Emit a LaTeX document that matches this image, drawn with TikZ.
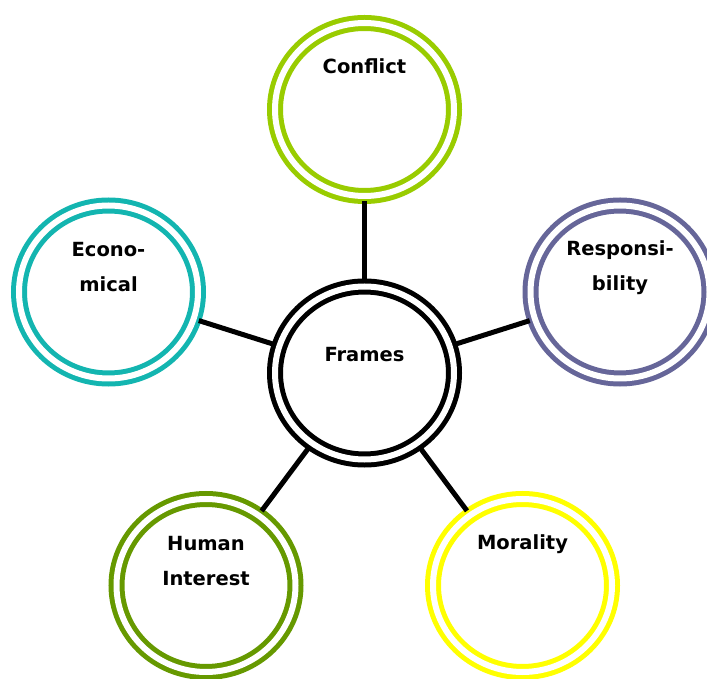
\documentclass[tikz,border=0pt]{standalone}
\usepackage{fontspec}
\setmainfont{DejaVu Sans}
\usetikzlibrary{shapes.geometric}
\definecolor{cconf}{HTML}{99CC00}
\definecolor{cresp}{HTML}{666699}
\definecolor{cecon}{HTML}{13B5B0}
\definecolor{chum}{HTML}{669900}
\definecolor{cmor}{HTML}{FFFF00}
\tikzset{
  ring/.style={ellipse, draw=#1, double=white, double distance=6pt, line width=5pt,
    fill=white, minimum width=179pt, minimum height=173pt, inner sep=0pt, outer sep=5.5pt},
  lbl/.style={font=\fontsize{19.5}{35.5}\selectfont\bfseries, align=center, inner sep=0pt, anchor=base},
  conn/.style={line width=5pt, black}
}
\begin{document}
\begin{tikzpicture}[x=1pt,y=1pt]
\useasboundingbox (0,0) rectangle (707,678);
\clip (0,0) rectangle (707,678);
\node[ring=black] (frames) at (364.5,305) {};
\node[ring=cconf] (conf) at (364.5,568.5) {};
\node[ring=cecon] (econ) at (108.5,386) {};
\node[ring=cresp] (resp) at (620,386) {};
\node[ring=chum] (hum) at (206,92.5) {};
\node[ring=cmor] (mor) at (522.5,92.5) {};
\draw[conn] (frames) -- (conf);
\draw[conn] (frames) -- (econ);
\draw[conn] (frames) -- (resp);
\draw[conn] (frames) -- (hum);
\draw[conn] (frames) -- (mor);
\node[lbl] (frames-t) at ([yshift=11pt]frames.center) {Frames};
\node[lbl] (conf-t) at ([yshift=35.5pt]conf.center) {Conflict};
\node[lbl] (econ-t) at ([yshift=0pt]econ.center) {Econo-\\mical};
\node[lbl] (resp-t) at ([yshift=1pt]resp.center) {Responsi-\\bility};
\node[lbl] (hum-t) at ([yshift=0pt]hum.center) {Human\\Interest};
\node[lbl] (mor-t) at ([yshift=36.5pt]mor.center) {Morality};
\end{tikzpicture}
\end{document}
